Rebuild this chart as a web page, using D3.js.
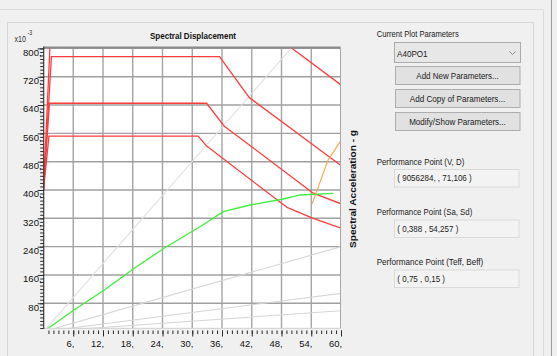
<!DOCTYPE html>
<html>
<head>
<meta charset="utf-8">
<script src="https://cdn.jsdelivr.net/npm/d3@7"></script>
<style>
  html, body { margin: 0; padding: 0; background: #f0f0f0; }
  svg { display: block; font-family: "Liberation Sans", Arial, sans-serif; }
</style>
</head>
<body>
<svg id="chart" width="557" height="356"></svg>
<script>
// ---- Data: spectral displacement Sd (mm) vs spectral acceleration Sa (x10^-3 g) ----
// Demand spectra for decreasing damping levels
const demandElastic = [[0, 400], [1.7, 930], [40.5, 930], [48.2, 820], [60, 697]];
const demandHigh    = [[0, 400], [1.6, 777], [35.5, 777], [41.5, 661], [60, 469]];
const demandMid     = [[0, 400], [1.2, 645], [32.9, 645], [36.4, 581], [54.4, 391], [60, 361]];
const demandLow     = [[0, 400], [1.1, 552], [31.2, 552], [32.9, 524], [49.1, 351], [54.4, 320], [60, 292]];
// Capacity curve
const capacity = [[0, 0], [6.15, 61], [12.26, 117.5], [18.31, 178.8], [24.3, 235.3], [31.56, 296.3],
                  [36.26, 338.7], [41.65, 357.6], [48.37, 374.6], [51.73, 385.9], [58.45, 390.7]];
// Single demand spectrum locus through the performance point
const demandLocus = [[54.2, 362], [57.4, 485], [60, 540]];
// Constant-period radial lines: end point (Sd, Sa) of each line from the origin
const periodLabels = ["T=0.5", "T=1.0", "T=1.5", "T=2.0"];
const periodEndSd  = [50.3, 60, 60, 60];
const periodEndSa  = [806, 240, 108, 59];

// Axis ticks
const xTicks = [6, 12, 18, 24, 30, 36, 42, 48, 54, 60];
const yTicks = [80, 160, 240, 320, 400, 480, 560, 640, 720, 800];

// Side panel text
const paramTitle = "Current Plot Parameters";
const paramName = "A40PO1";
const buttonLabels = ["Add New Parameters...", "Add Copy of Parameters...", "Modify/Show Parameters..."];
const ppTitles = ["Performance Point (V, D)", "Performance Point (Sa, Sd)", "Performance Point (Teff, Beff)"];
const ppValues = ["( 9056284, , 71,106 )", "( 0,388 , 54,257 )", "( 0,75 , 0,15 )"];

// ---- Layout ----
const svg = d3.select("#chart");
const plot = { l: 43.7, r: 340.5, t: 47.5, b: 328.3 };
const x = d3.scaleLinear().domain([0, 60]).range([43.5, 341]);
const y = d3.scaleLinear().domain([0, 800]).range([331.6, 48.4]);

function text(g, str, px, py, o = {}) {
  const t = g.append("text").attr("x", px).attr("y", py).text(str)
    .attr("font-size", o.size || 9.3)
    .attr("fill", o.fill || "#1a1a1a")
    .attr("font-weight", o.weight || "normal")
    .attr("text-anchor", o.anchor || "start");
  if (o.width) t.attr("textLength", o.width).attr("lengthAdjust", "spacingAndGlyphs");
  if (o.transform) t.attr("transform", o.transform);
  return t;
}

// ---- Window frame ----
svg.append("rect").attr("width", 557).attr("height", 356).attr("fill", "#f0f0f0");
svg.append("line").attr("x1", 0).attr("x2", 543.5).attr("y1", 9.5).attr("y2", 9.5).attr("stroke", "#dcdcdc");
svg.append("line").attr("x1", 543.5).attr("x2", 543.5).attr("y1", 9.5).attr("y2", 356).attr("stroke", "#dcdcdc");
svg.append("line").attr("x1", 551.5).attr("x2", 551.5).attr("y1", 0).attr("y2", 356).attr("stroke", "#9c9c9c");
svg.append("rect").attr("x", 7.5).attr("y", 22.5).attr("width", 526).attr("height", 345)
  .attr("fill", "none").attr("stroke", "#d6d6d6");

// ---- Plot area ----
svg.append("rect").attr("x", plot.l).attr("y", plot.t)
  .attr("width", plot.r - plot.l).attr("height", plot.b - plot.t).attr("fill", "#ffffff");

svg.append("clipPath").attr("id", "plotClip").append("rect")
  .attr("x", plot.l).attr("y", plot.t).attr("width", plot.r - plot.l).attr("height", plot.b - plot.t);
const pg = svg.append("g").attr("clip-path", "url(#plotClip)");

// Grid
pg.selectAll("line.vg").data(xTicks).join("line").attr("class", "vg")
  .attr("x1", d => x(d)).attr("x2", d => x(d)).attr("y1", plot.t).attr("y2", plot.b)
  .attr("stroke", "#a4a4a4").attr("stroke-width", 1.4);
pg.selectAll("line.hg").data(yTicks).join("line").attr("class", "hg")
  .attr("x1", plot.l).attr("x2", plot.r).attr("y1", d => y(d)).attr("y2", d => y(d))
  .attr("stroke", "#a0a0a0").attr("stroke-width", 1.4);

// Constant-period lines
pg.selectAll("line.period").data(periodLabels).join("line").attr("class", "period")
  .attr("x1", x(0)).attr("y1", y(0))
  .attr("x2", (d, i) => x(periodEndSd[i])).attr("y2", (d, i) => y(periodEndSa[i]))
  .attr("stroke", (d, i) => i === 0 ? "#e0e0e0" : "#d6d6d6").attr("stroke-width", 1.1);

const line = d3.line().x(d => x(d[0])).y(d => y(d[1]));

// Demand spectra
[demandElastic, demandHigh, demandMid, demandLow].forEach(s => {
  pg.append("path").attr("d", line(s)).attr("fill", "none")
    .attr("stroke", "#ff3c3c").attr("stroke-width", 1.3).attr("stroke-linejoin", "round");
});

// Capacity curve
pg.append("path").attr("d", line(capacity)).attr("fill", "none")
  .attr("stroke", "#3cf03c").attr("stroke-width", 1.3);

// Demand locus
pg.append("path").attr("d", line(demandLocus)).attr("fill", "none")
  .attr("stroke", "#ffa64d").attr("stroke-width", 1.2);

// Plot border
svg.append("line").attr("x1", plot.l).attr("x2", plot.r).attr("y1", plot.t).attr("y2", plot.t)
  .attr("stroke", "#8a8a8a").attr("stroke-width", 2);
svg.append("line").attr("x1", plot.r).attr("x2", plot.r).attr("y1", plot.t).attr("y2", plot.b)
  .attr("stroke", "#a8a8a8").attr("stroke-width", 1);
svg.append("line").attr("x1", plot.l).attr("x2", plot.r).attr("y1", plot.b).attr("y2", plot.b)
  .attr("stroke", "#cfcfcf").attr("stroke-width", 1);
svg.append("line").attr("x1", plot.l).attr("x2", plot.l).attr("y1", plot.t - 1).attr("y2", plot.b + 0.5)
  .attr("stroke", "#3a3a3a").attr("stroke-width", 1.2);

// ---- Axes ----
function styleAxis(g) {
  g.select(".domain").remove();
  g.selectAll(".tick line").attr("stroke", "#2a2a2a");
}
const xMinor = svg.append("g").attr("transform", "translate(0,330.5)")
  .call(d3.axisBottom(x).tickValues(d3.range(1, 61)).tickSize(3.5).tickFormat(""));
styleAxis(xMinor);
const xMajor = svg.append("g").attr("transform", "translate(0,330.5)")
  .call(d3.axisBottom(x).tickValues(xTicks).tickSize(6).tickFormat(d => d + ","));
styleAxis(xMajor);
xMajor.selectAll(".tick text").attr("y", 16.5).attr("dy", 0).attr("x", 0.5)
  .attr("text-anchor", "end").attr("font-size", 9.4).attr("fill", "#111")
  .attr("font-family", "Liberation Sans, Arial, sans-serif");

const yMinor = svg.append("g").attr("transform", "translate(43.7,0)")
  .call(d3.axisLeft(y).tickValues(d3.range(10, 801, 10)).tickSize(3.5).tickFormat(""));
styleAxis(yMinor);
const yMajor = svg.append("g").attr("transform", "translate(43.7,0)")
  .call(d3.axisLeft(y).tickValues(yTicks).tickSize(6).tickFormat(d => d + ","));
styleAxis(yMajor);
yMajor.selectAll(".tick text").attr("x", -2).attr("y", 6.8).attr("dy", 0)
  .attr("text-anchor", "end").attr("font-size", 9.6).attr("fill", "#111")
  .attr("font-family", "Liberation Sans, Arial, sans-serif");

// Axis scale factor and titles
text(svg, "x10", 14.5, 41.7, { size: 8.4, width: 11.5, fill: "#333" });
text(svg, "-3", 27.5, 34.5, { size: 6.6, width: 4.6, fill: "#333" });
text(svg, "Spectral Displacement", 193, 39.3, { size: 9.6, weight: "bold", anchor: "middle", width: 86, fill: "#111" });
text(svg, "Spectral Acceleration - g", 0, 0, {
  size: 9.6, weight: "bold", anchor: "middle", width: 118, fill: "#111",
  transform: "translate(355.5,189) rotate(-90)"
});

// ---- Side panel ----
text(svg, paramTitle, 376.7, 37.3, { width: 82 });

svg.append("rect").attr("x", 394.5).attr("y", 42.5).attr("width", 126).attr("height", 20)
  .attr("fill", "#e7e7e7").attr("stroke", "#ababab");
text(svg, paramName, 397, 56.6, { width: 30.6 });
svg.append("polyline").attr("points", "509.5,51.5 512.5,54.5 515.5,51.5")
  .attr("fill", "none").attr("stroke", "#8a8a8a").attr("stroke-width", 1);

const buttonY = [66.5, 89.5, 112.5];
const buttonW = [82.3, 95.3, 96.7];
buttonLabels.forEach((lbl, i) => {
  svg.append("rect").attr("x", 395.5).attr("y", buttonY[i]).attr("width", 124.5).attr("height", 18)
    .attr("fill", "#e1e1e1").attr("stroke", "#adadad");
  text(svg, lbl, 457.5, buttonY[i] + 12.6, { anchor: "middle", width: buttonW[i] });
});

const ppTitleY = [164.8, 215, 265];
const ppTitleW = [87.6, 95.6, 106.6];
const ppBoxY = [169.5, 220, 270];
const ppValW = [74.4, 61, 47.7];
ppTitles.forEach((t, i) => {
  text(svg, t, 376.7, ppTitleY[i], { width: ppTitleW[i] });
  svg.append("rect").attr("x", 394.5).attr("y", ppBoxY[i]).attr("width", 124.5).attr("height", 17.5)
    .attr("fill", "#f3f3f3").attr("stroke", "#dadada");
  text(svg, ppValues[i], 397.3, ppBoxY[i] + 11.6, { width: ppValW[i] });
});
</script>
</body>
</html>
